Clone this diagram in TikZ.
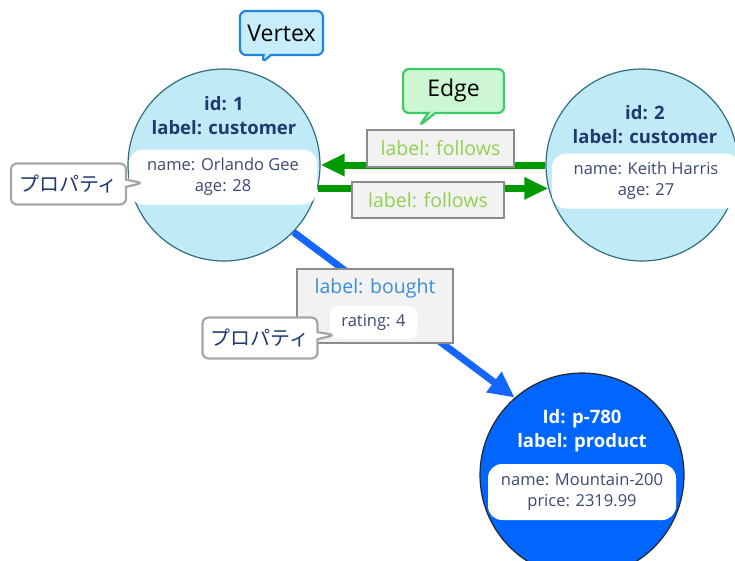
\documentclass[tikz,border=0pt]{standalone}
\usepackage{fontspec}
\setmainfont{Open Sans}
\newfontfamily\jpfont{Noto Sans CJK JP}
\usepackage{tikz}
\usetikzlibrary{shapes.callouts,arrows.meta}

\definecolor{vfill}{HTML}{C0EBF6}
\definecolor{vline}{HTML}{2F6E80}
\definecolor{vtext}{HTML}{1E3A6E}
\definecolor{ptext}{HTML}{3C4A72}
\definecolor{pfill}{HTML}{0066FF}
\definecolor{efill}{HTML}{F2F2F2}
\definecolor{eline}{HTML}{8C8C8C}
\definecolor{ftext}{HTML}{92D050}
\definecolor{btext}{HTML}{3A8FD8}
\definecolor{fgreen}{HTML}{009A00}
\definecolor{bblue}{HTML}{1466FF}
\definecolor{cblue}{HTML}{1F86DC}
\definecolor{cbluefill}{HTML}{C6EDF9}
\definecolor{cgreen}{HTML}{3DCB6A}
\definecolor{cgreenfill}{HTML}{CCF7D2}
\definecolor{cgray}{HTML}{A6A6A6}

\begin{document}
\begin{tikzpicture}[x=1pt,y=-1pt,
  vtx/.style={circle,draw=vline,fill=vfill,line width=1.2pt,minimum size=192pt,inner sep=0pt},
  vtitle/.style={font=\fontsize{18.5}{24}\selectfont\bfseries,text=vtext,align=center},
  props/.style={fill=white,rounded corners=14pt,minimum width=188pt,minimum height=55pt,
    inner sep=0pt,font=\fontsize{16.5}{21}\selectfont,text=ptext,align=center},
  elabel/.style={draw=eline,fill=efill,line width=1.2pt,inner sep=0pt,font=\fontsize{19.5}{20}\selectfont},
  follow/.style={line width=7pt,fgreen,-{Triangle[length=24pt,width=21pt]}},
  bought/.style={line width=7pt,bblue,-{Triangle[length=26pt,width=24pt]}},
  tip/.style={rectangle callout,rounded corners=6pt,line width=2.2pt,inner sep=0pt},
  tipjp/.style={tip,draw=cgray,fill=white,minimum width=115pt,minimum height=41pt,
    font=\jpfont\fontsize{20}{20}\selectfont,text=vtext}
]
\clip (0,0) rectangle (735,560);

% vertices
\node[vtx] (c1) at (224,165) {};
\node[vtx] (c2) at (642,165) {};
\node[vtx,fill=pfill,draw=black!85,minimum size=204pt] (c3) at (582,475) {};

\node[vtitle] (t1) at (224,116) {id: 1\\label: customer};
\node[props] (p1) at (223,177) {name: Orlando Gee\\age: 28};
\node[vtitle] (t2) at (645,125) {id: 2\\label: customer};
\node[props] (p2) at (646,181) {name: Keith Harris\\age: 27};
\node[vtitle,text=white] (t3) at (582,431) {Id: p-780\\label: product};
\node[props,minimum height=56pt] (p3) at (582,492) {name: Mountain-200\\price: 2319.99};

% edges
\draw[follow] (c2.west) -- (c1.east);
\draw[follow] (c1.-14) -- (c2.194);
\draw[bought] (c1.-44) -- (c3.131);

\node[elabel,text=ftext,minimum width=147pt,minimum height=37pt] (f1) at (440.5,148.5) {label: follows};
\node[elabel,text=ftext,minimum width=152pt,minimum height=36pt] (f2) at (428,200) {label: follows};
\node[elabel,minimum width=156pt,minimum height=74pt] (b1) at (375,306) {};
\node[text=btext,font=\fontsize{19.5}{20}\selectfont] (b1t) at (375,288) {label: bought};
\node[props,rounded corners=8pt,minimum width=87pt,minimum height=33pt] (b1p) at (373.5,322.5) {rating: 4};

% callouts
\coordinate (vp) at (262,63);
\coordinate (ep) at (419,126);
\coordinate (jp1) at (143,183);
\coordinate (jp2) at (335,335);
\node[tip,draw=cblue,fill=cbluefill,minimum width=83pt,minimum height=44pt,
  font=\fontsize{23}{23}\selectfont,callout absolute pointer=(vp)] (vc) at (281.5,33) {Vertex};
\node[tip,draw=cgreen,fill=cgreenfill,minimum width=101pt,minimum height=44pt,
  font=\fontsize{23}{23}\selectfont,callout absolute pointer=(ep)] (ec) at (453.5,91) {Edge};
\node[tipjp,callout absolute pointer=(jp1)] (pc1) at (68.5,184) {プロパティ};
\node[tipjp,callout absolute pointer=(jp2)] (pc2) at (260,338) {プロパティ};
\end{tikzpicture}
\end{document}
